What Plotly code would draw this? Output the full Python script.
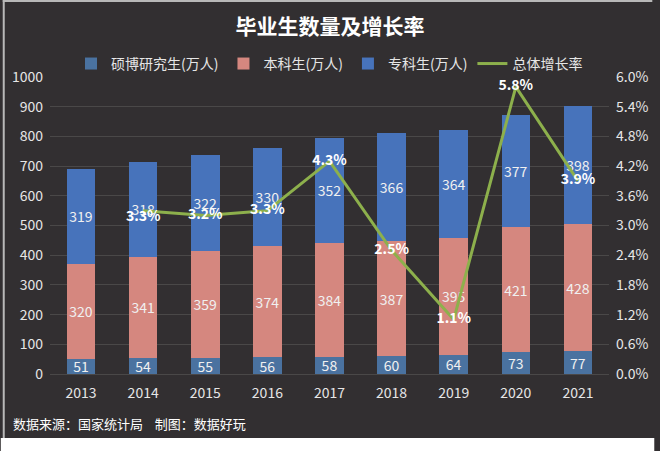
import plotly.graph_objects as go

years = ["2013", "2014", "2015", "2016", "2017", "2018", "2019", "2020", "2021"]
master_phd = [51, 54, 55, 56, 58, 60, 64, 73, 77]
bachelor = [320, 341, 359, 374, 384, 387, 395, 421, 428]
junior = [319, 318, 322, 330, 352, 366, 364, 377, 398]
growth = [None, 3.3, 3.2, 3.3, 4.3, 2.5, 1.1, 5.8, 3.9]

FONT = "Noto Sans CJK SC"
BG = "#322f31"
TXT = "#e6e6e6"

fig = go.Figure()
for name, vals, col in [("硕博研究生(万人)", master_phd, "#4a72a0"),
                        ("本科生(万人)", bachelor, "#d5877f"),
                        ("专科生(万人)", junior, "#4773bb")]:
    fig.add_trace(go.Bar(
        x=years, y=vals, name=name, marker=dict(color=col, line=dict(width=0)),
        text=[str(v) for v in vals], textposition="inside", insidetextanchor="middle",
        constraintext="none", textangle=0,
        textfont=dict(family=FONT, size=14, color="#f0f0f0"),
        yaxis="y"))

label_pos = ["middle center", "bottom center", "middle center", "middle center",
             "middle center", "middle center", "middle center", "middle center",
             "middle center"]
fig.add_trace(go.Scatter(
    x=years, y=growth, name="总体增长率", mode="lines+text",
    line=dict(color="#8db04c", width=3),
    text=[None if g is None else f"<b>{g:.1f}%</b>" for g in growth],
    textposition=label_pos,
    textfont=dict(family=FONT, size=14, color="#ffffff"),
    yaxis="y2", connectgaps=False))

fig.update_layout(
    width=660, height=451,
    margin=dict(l=48, r=44, t=77, b=77),
    paper_bgcolor=BG, plot_bgcolor=BG,
    barmode="stack", bargap=0.54,
    font=dict(family=FONT, color=TXT, size=14),
    title=dict(text="<b>毕业生数量及增长率</b>", x=0.5, xanchor="center",
               y=1 - 27 / 451, yanchor="middle",
               font=dict(family=FONT, size=21, color="#ffffff")),
    legend=dict(orientation="h", x=0.5, xanchor="center", y=1.044, yanchor="middle",
                font=dict(family=FONT, size=14, color=TXT), bgcolor="rgba(0,0,0,0)",
                itemwidth=30, traceorder="normal"),
    xaxis=dict(type="category", showgrid=False, tickfont=dict(size=14, color=TXT),
               showline=True, linecolor="#4a4848", ticks="", ticklabelstandoff=6),
    yaxis=dict(range=[0, 1000], dtick=100, gridcolor="#4a4848", gridwidth=1,
               tickfont=dict(size=14, color=TXT), zeroline=False, ticks="",
               ticklabelstandoff=6),
    yaxis2=dict(range=[0, 6], dtick=0.6, overlaying="y", side="right", showgrid=False,
                tickformat=".1f", ticksuffix="%", tickfont=dict(size=14, color=TXT),
                zeroline=False, ticks="", ticklabelstandoff=6),
    showlegend=True,
)

# footer
fig.add_annotation(text="数据来源：国家统计局    制图：数据好玩", xref="paper", yref="paper",
                   x=-40 / 568, y=-(423 - 374) / 297, xanchor="left", yanchor="middle",
                   showarrow=False, font=dict(family=FONT, size=13, color="#ffffff"))

# white strip at bottom and light border
fig.add_shape(type="rect", xref="paper", yref="paper",
              x0=-50 / 568, x1=(662 - 48) / 568,
              y0=-(438 - 374) / 297, y1=-(453 - 374) / 297,
              fillcolor="#ffffff", line=dict(width=0), layer="above")
fig.add_shape(type="line", xref="paper", yref="paper",
              x0=-47 / 568, x1=-47 / 568, y0=(374 - 0) / 297, y1=-(438 - 374) / 297,
              line=dict(color="#b8b8b8", width=2))
fig.add_shape(type="line", xref="paper", yref="paper",
              x0=-48 / 568, x1=(660 - 48) / 568, y0=(374 - 1) / 297, y1=(374 - 1) / 297,
              line=dict(color="#b8b8b8", width=2))

fig.write_html("out.html")
